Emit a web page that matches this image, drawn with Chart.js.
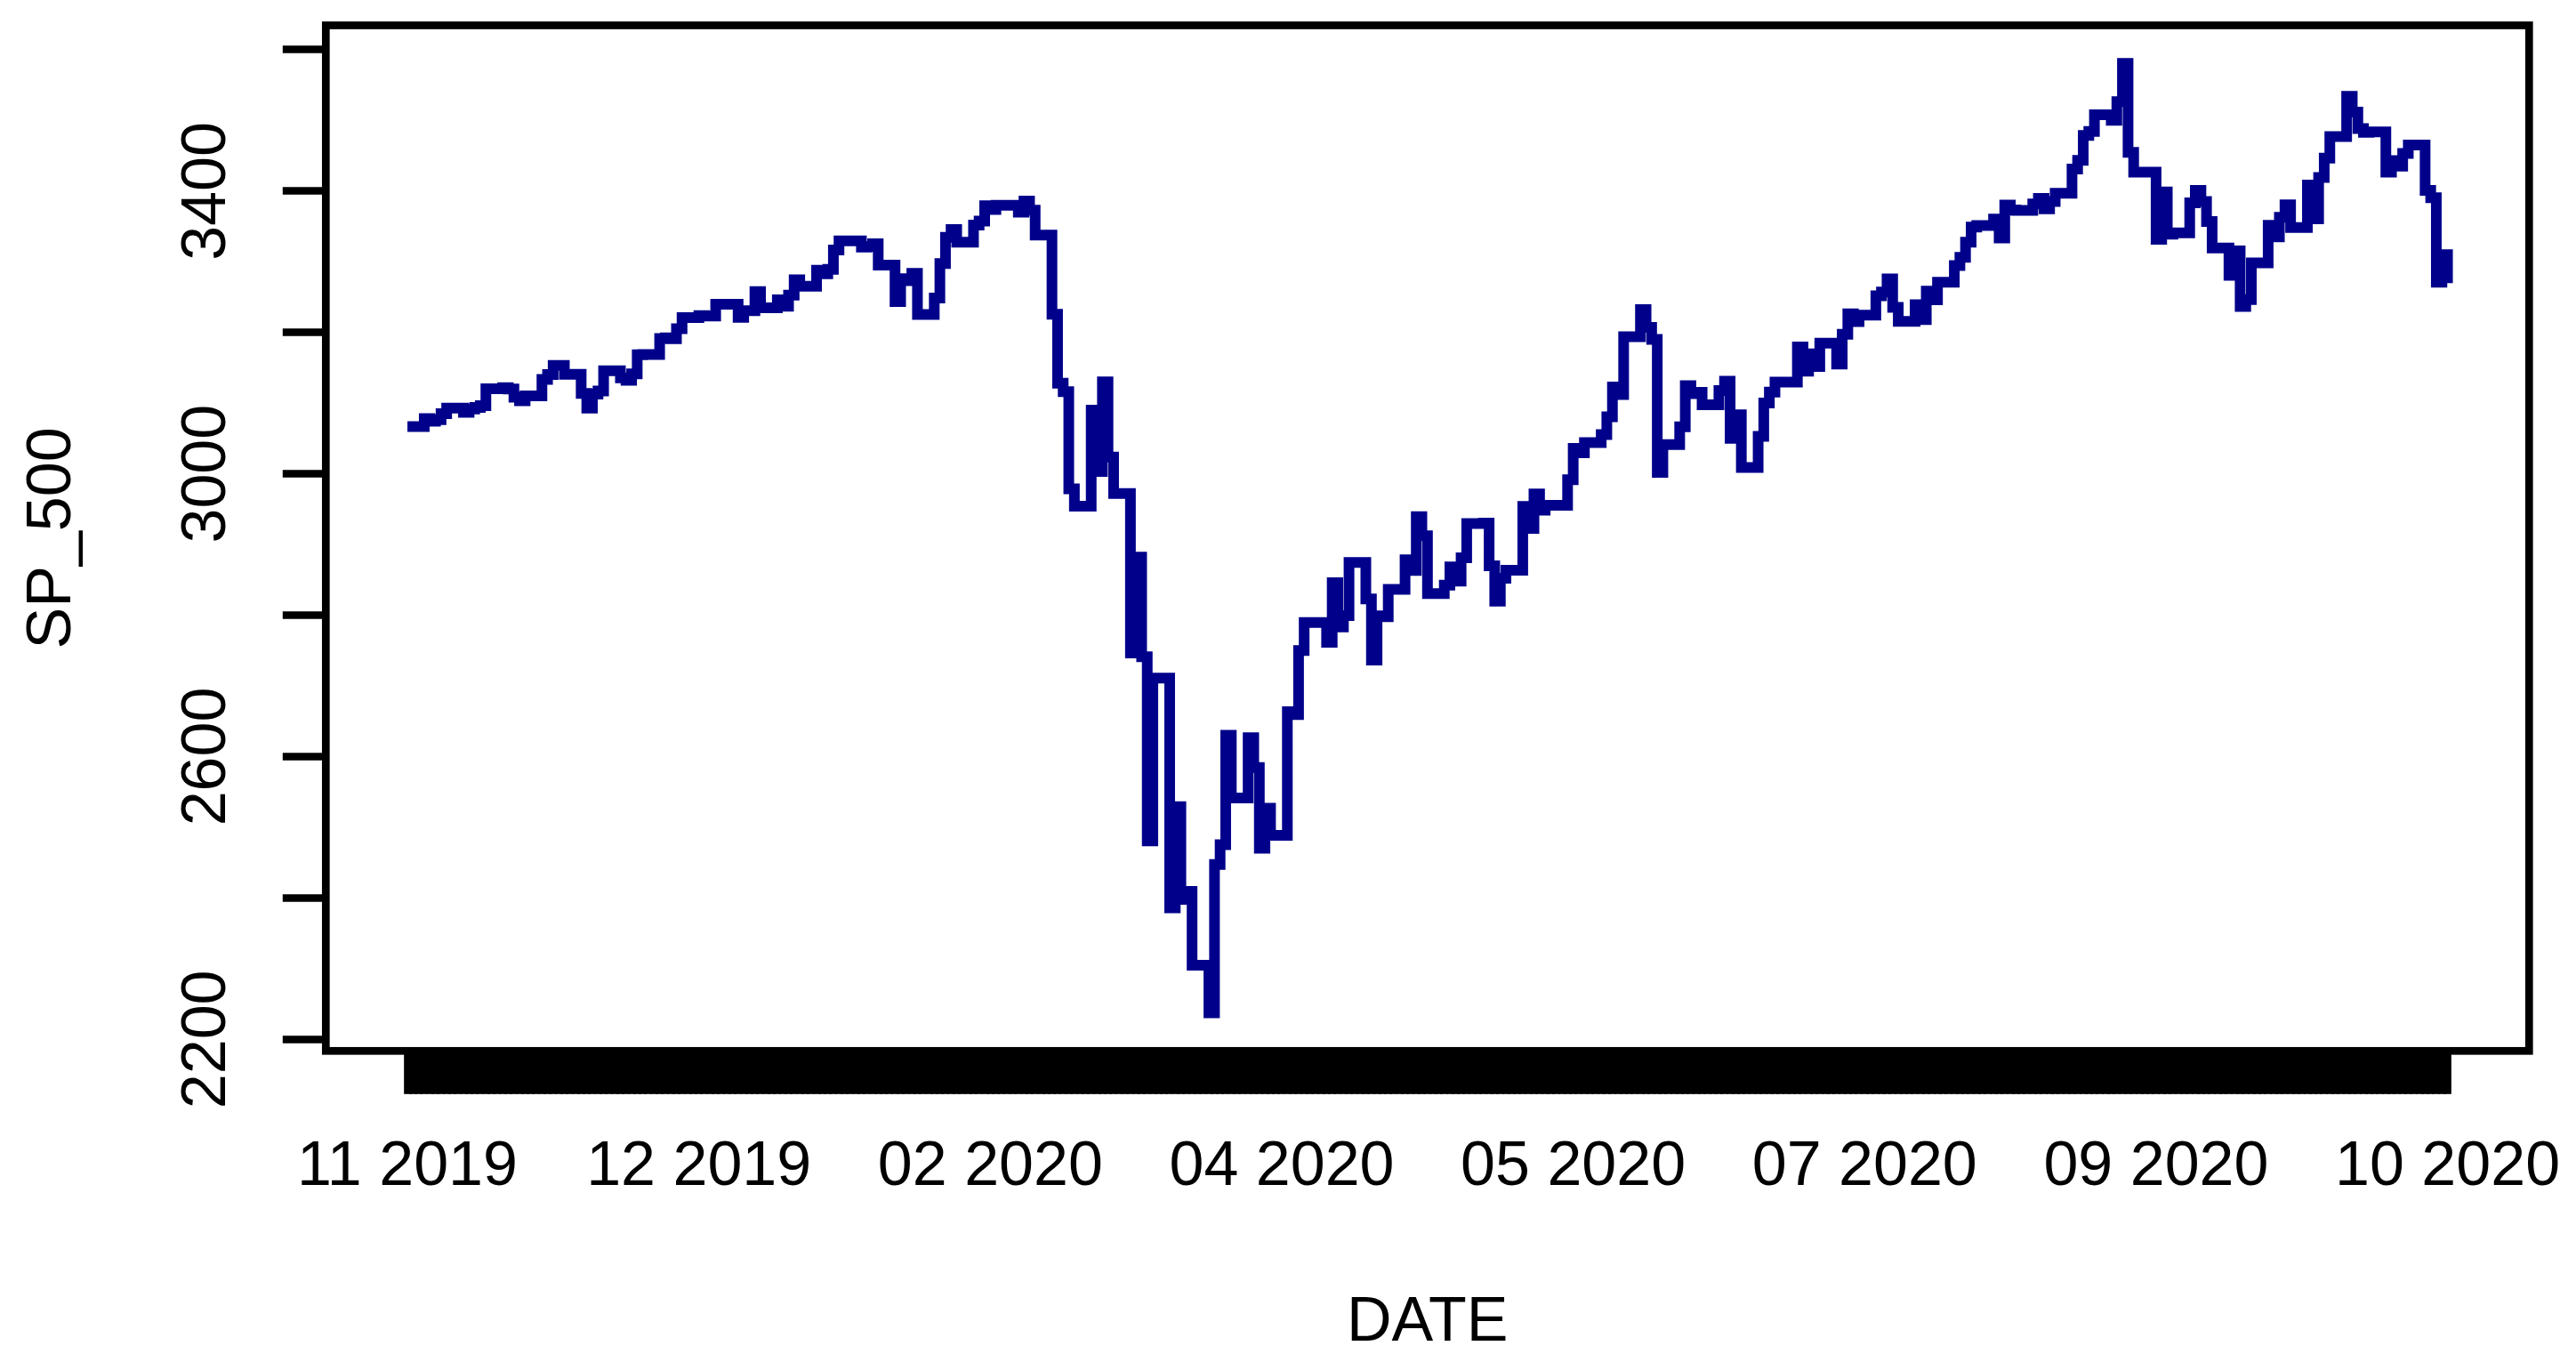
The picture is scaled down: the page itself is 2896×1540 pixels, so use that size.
<!DOCTYPE html>
<html>
<head>
<meta charset="utf-8">
<title>SP_500</title>
<script src="https://cdn.jsdelivr.net/npm/chart.js@4.4.1/dist/chart.umd.min.js"></script>
<style>
  html, body { margin: 0; padding: 0; background: #fff; }
  canvas { display: block; }
</style>
</head>
<body>
<canvas id="spChart" width="2896" height="1540"></canvas>
<script>
// trading days and closing values
const dates = [
  '2019-11-01','2019-11-04','2019-11-05','2019-11-06','2019-11-07','2019-11-08','2019-11-11','2019-11-12','2019-11-13','2019-11-14','2019-11-15','2019-11-18','2019-11-19','2019-11-20','2019-11-21','2019-11-22','2019-11-25','2019-11-26','2019-11-27','2019-11-29',
  '2019-12-02','2019-12-03','2019-12-04','2019-12-05','2019-12-06','2019-12-09','2019-12-10','2019-12-11','2019-12-12','2019-12-13','2019-12-16','2019-12-17','2019-12-18','2019-12-19','2019-12-20','2019-12-23','2019-12-24','2019-12-26','2019-12-27','2019-12-30','2019-12-31',
  '2020-01-02','2020-01-03','2020-01-06','2020-01-07','2020-01-08','2020-01-09','2020-01-10','2020-01-13','2020-01-14','2020-01-15','2020-01-16','2020-01-17','2020-01-21','2020-01-22','2020-01-23','2020-01-24','2020-01-27','2020-01-28','2020-01-29','2020-01-30','2020-01-31',
  '2020-02-03','2020-02-04','2020-02-05','2020-02-06','2020-02-07','2020-02-10','2020-02-11','2020-02-12','2020-02-13','2020-02-14','2020-02-18','2020-02-19','2020-02-20','2020-02-21','2020-02-24','2020-02-25','2020-02-26','2020-02-27','2020-02-28',
  '2020-03-02','2020-03-03','2020-03-04','2020-03-05','2020-03-06','2020-03-09','2020-03-10','2020-03-11','2020-03-12','2020-03-13','2020-03-16','2020-03-17','2020-03-18','2020-03-19','2020-03-20','2020-03-23','2020-03-24','2020-03-25','2020-03-26','2020-03-27','2020-03-30','2020-03-31',
  '2020-04-01','2020-04-02','2020-04-03','2020-04-06','2020-04-07','2020-04-08','2020-04-09','2020-04-13','2020-04-14','2020-04-15','2020-04-16','2020-04-17','2020-04-20','2020-04-21','2020-04-22','2020-04-23','2020-04-24','2020-04-27','2020-04-28','2020-04-29','2020-04-30',
  '2020-05-01','2020-05-04','2020-05-05','2020-05-06','2020-05-07','2020-05-08','2020-05-11','2020-05-12','2020-05-13','2020-05-14','2020-05-15','2020-05-18','2020-05-19','2020-05-20','2020-05-21','2020-05-22','2020-05-26','2020-05-27','2020-05-28','2020-05-29',
  '2020-06-01','2020-06-02','2020-06-03','2020-06-04','2020-06-05','2020-06-08','2020-06-09','2020-06-10','2020-06-11','2020-06-12','2020-06-15','2020-06-16','2020-06-17','2020-06-18','2020-06-19','2020-06-22','2020-06-23','2020-06-24','2020-06-25','2020-06-26','2020-06-29','2020-06-30',
  '2020-07-01','2020-07-02','2020-07-06','2020-07-07','2020-07-08','2020-07-09','2020-07-10','2020-07-13','2020-07-14','2020-07-15','2020-07-16','2020-07-17','2020-07-20','2020-07-21','2020-07-22','2020-07-23','2020-07-24','2020-07-27','2020-07-28','2020-07-29','2020-07-30','2020-07-31',
  '2020-08-03','2020-08-04','2020-08-05','2020-08-06','2020-08-07','2020-08-10','2020-08-11','2020-08-12','2020-08-13','2020-08-14','2020-08-17','2020-08-18','2020-08-19','2020-08-20','2020-08-21','2020-08-24','2020-08-25','2020-08-26','2020-08-27','2020-08-28','2020-08-31',
  '2020-09-01','2020-09-02','2020-09-03','2020-09-04','2020-09-08','2020-09-09','2020-09-10','2020-09-11','2020-09-14','2020-09-15','2020-09-16','2020-09-17','2020-09-18','2020-09-21','2020-09-22','2020-09-23','2020-09-24','2020-09-25','2020-09-28','2020-09-29','2020-09-30',
  '2020-10-01','2020-10-02','2020-10-05','2020-10-06','2020-10-07','2020-10-08','2020-10-09','2020-10-12','2020-10-13','2020-10-14','2020-10-15','2020-10-16','2020-10-19','2020-10-20','2020-10-21','2020-10-22','2020-10-23','2020-10-26','2020-10-27','2020-10-28','2020-10-29','2020-10-30'
];

const sp500 = [
  3066.91, 3078.27, 3074.62, 3076.78, 3085.18, 3093.08, 3087.01, 3091.84, 3094.04, 3096.63, 3120.46, 3122.03, 3120.18, 3108.46, 3103.54, 3110.29, 3133.64, 3140.52, 3153.63, 3140.98,
  3113.87, 3093.20, 3112.76, 3117.43, 3145.91, 3135.96, 3132.52, 3141.63, 3168.57, 3168.80, 3191.45, 3192.52, 3191.14, 3205.37, 3221.22, 3224.01, 3223.38, 3239.91, 3240.02, 3221.29, 3230.78,
  3257.85, 3234.85, 3246.28, 3237.18, 3253.05, 3274.70, 3265.35, 3288.13, 3283.15, 3289.29, 3316.81, 3329.62, 3320.79, 3321.75, 3325.54, 3295.47, 3243.63, 3276.24, 3273.40, 3283.66, 3225.52,
  3248.92, 3297.59, 3334.69, 3345.78, 3327.71, 3352.09, 3357.75, 3379.45, 3373.94, 3380.16, 3370.29, 3386.15, 3373.23, 3337.75, 3225.89, 3128.21, 3116.39, 2978.76, 2954.22,
  3090.23, 3003.37, 3130.12, 3023.94, 2972.37, 2746.56, 2882.23, 2741.38, 2480.64, 2711.02, 2386.13, 2529.19, 2398.10, 2409.39, 2304.92, 2237.40, 2447.33, 2475.56, 2630.07, 2541.47, 2626.65, 2584.59,
  2470.50, 2526.90, 2488.65, 2663.68, 2659.41, 2749.98, 2789.82, 2761.63, 2846.06, 2783.36, 2799.55, 2874.56, 2823.16, 2736.56, 2799.31, 2797.80, 2836.74, 2878.48, 2863.39, 2939.51, 2912.43,
  2830.71, 2842.74, 2868.44, 2848.42, 2881.19, 2929.80, 2930.32, 2870.12, 2820.00, 2852.50, 2863.70, 2953.91, 2922.94, 2971.61, 2948.51, 2955.45, 2991.77, 3036.13, 3029.73, 3044.31,
  3055.73, 3080.82, 3122.87, 3112.35, 3193.93, 3232.39, 3207.18, 3190.14, 3002.10, 3041.31, 3066.59, 3124.74, 3113.49, 3115.34, 3097.74, 3117.86, 3131.29, 3050.33, 3083.76, 3009.05, 3053.24, 3100.29,
  3115.86, 3130.01, 3179.72, 3145.32, 3169.94, 3152.05, 3185.04, 3155.22, 3197.52, 3226.56, 3215.57, 3224.73, 3251.84, 3257.30, 3276.02, 3235.66, 3215.63, 3239.41, 3218.44, 3258.44, 3246.22, 3271.12,
  3294.61, 3306.51, 3327.77, 3349.16, 3351.28, 3360.47, 3333.69, 3380.35, 3373.43, 3372.85, 3381.99, 3389.78, 3374.85, 3385.51, 3397.16, 3431.28, 3443.62, 3478.73, 3484.55, 3508.01, 3500.31,
  3526.65, 3580.84, 3455.06, 3426.96, 3331.84, 3398.96, 3339.19, 3340.97, 3383.54, 3401.20, 3385.49, 3357.01, 3319.47, 3281.06, 3315.57, 3236.92, 3246.59, 3298.46, 3351.60, 3335.47, 3363.00,
  3380.80, 3348.44, 3408.63, 3360.97, 3419.44, 3446.83, 3477.14, 3534.22, 3511.93, 3488.67, 3483.34, 3483.81, 3426.92, 3443.12, 3435.56, 3453.49, 3465.39, 3400.97, 3390.68, 3271.03, 3310.11, 3269.96
];

const xTickDates = ['2019-11-01', '2019-12-23', '2020-02-13', '2020-04-05', '2020-05-27', '2020-07-18', '2020-09-08', '2020-10-30'];
const xTickLabels = ['11 2019', '12 2019', '02 2020', '04 2020', '05 2020', '07 2020', '09 2020', '10 2020'];
const yTicks = [2200, 2400, 2600, 2800, 3000, 3200, 3400, 3600];
const yTickLabels = ['2200', '', '2600', '', '3000', '', '3400', ''];

const FONT = "'Liberation Sans', Arial, Helvetica, sans-serif";

// x is days since first date (calendar time, like R's Date axis)
const DAY = 86400000;
const t0 = Date.parse(dates[0]);
const toDay = s => Math.round((Date.parse(s) - t0) / DAY);

const points = dates.map((d, i) => ({ x: toDay(d), y: sp500[i] }));
const lastDay = toDay(dates[dates.length - 1]);

// R style 4% axis extension
const xPad = 0.04 * lastDay;
const lo = Math.min(...sp500), hi = Math.max(...sp500);
const yPad = 0.04 * (hi - lo);

const xLabelAt = {};
xTickDates.forEach((d, i) => { xLabelAt[toDay(d)] = xTickLabels[i]; });
const yLabelAt = {};
yTicks.forEach((v, i) => { yLabelAt[v] = yTickLabels[i]; });

// one tick per calendar day -> the solid black band under the plot
const dayTicks = [];
for (let d = 0; d <= lastDay; d++) dayTicks.push({ value: d });

const plotBox = {
  id: 'plotBox',
  afterDatasetsDraw(chart) {
    const { ctx, chartArea: a } = chart;
    ctx.save();
    ctx.strokeStyle = '#000';
    ctx.lineWidth = 8.7;
    ctx.strokeRect(a.left, a.top, a.right - a.left, a.bottom - a.top);
    ctx.restore();
  }
};

new Chart(document.getElementById('spChart'), {
  type: 'line',
  data: {
    datasets: [{
      label: 'SP_500',
      data: points,
      borderColor: '#00008B',
      borderWidth: 12,
      pointRadius: 0,
      stepped: 'before',   // close holds over weekends / holidays
      fill: false
    }]
  },
  options: {
    responsive: false,
    devicePixelRatio: 1,
    animation: false,
    layout: { padding: { top: 28.5, right: 52.7, bottom: 0, left: 0 } },
    plugins: { legend: { display: false }, tooltip: { enabled: false } },
    scales: {
      x: {
        type: 'linear',
        min: -xPad,
        max: lastDay + xPad,
        border: { display: false },
        grid: { drawOnChartArea: false, drawTicks: true, tickLength: 48.5, tickWidth: 8.7, tickColor: '#000' },
        ticks: {
          autoSkip: false,
          minRotation: 0,
          maxRotation: 0,
          padding: 41,
          color: '#000',
          font: { family: FONT, size: 70 },
          callback: v => xLabelAt[v] || ''
        },
        afterBuildTicks: s => { s.ticks = dayTicks.slice(); },
        afterFit: s => { s.height = 1540 - 1181.3; s.paddingLeft = 0; s.paddingRight = 0; },
        title: {
          display: true,
          text: 'DATE',
          color: '#000',
          font: { family: FONT, size: 70 },
          padding: { top: 0, bottom: 10 }
        }
      },
      y: {
        type: 'linear',
        min: lo - yPad,
        max: hi + yPad,
        border: { display: false },
        grid: { drawOnChartArea: false, drawTicks: true, tickLength: 48.5, tickWidth: 8.7, tickColor: '#000' },
        ticks: {
          minRotation: 90,
          maxRotation: 90,
          crossAlign: 'center',
          padding: 6,
          color: '#000',
          font: { family: FONT, size: 70 },
          callback: v => yLabelAt[v] || ''
        },
        afterBuildTicks: s => { s.ticks = yTicks.map(v => ({ value: v })); },
        afterFit: s => { s.width = 366.3; s.paddingTop = 0; s.paddingBottom = 0; },
        title: {
          display: true,
          text: 'SP_500',
          color: '#000',
          font: { family: FONT, size: 70 },
          padding: { top: 18, bottom: 0 }
        }
      }
    }
  },
  plugins: [plotBox]
});
</script>
</body>
</html>
